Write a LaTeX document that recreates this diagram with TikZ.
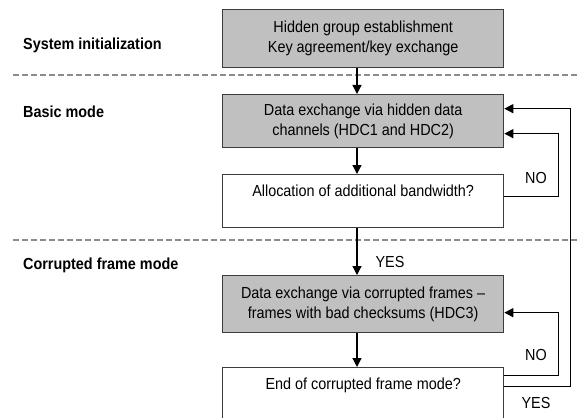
\documentclass[tikz,border=0pt]{standalone}
\usepackage{fontspec}
\setmainfont{Liberation Sans}[FakeStretch=0.9]
\usetikzlibrary{arrows.meta,calc}
\definecolor{boxgray}{RGB}{192,192,192}
\definecolor{edge}{RGB}{60,60,60}
\definecolor{sepgray}{RGB}{140,140,140}
\begin{document}
\begin{tikzpicture}[x=1pt,y=-1pt,
  box/.style={draw=edge, line width=1.3pt, minimum width=281pt, minimum height=#1,
    inner sep=0pt, align=center, anchor=north west, font=\fontsize{16}{20}\selectfont},
  gbox/.style={box=#1, fill=boxgray},
  wbox/.style={box=#1, fill=white},
  arr/.style={draw=black, line width=1.3pt, -{Triangle[length=9pt,width=9pt]}},
  sepline/.style={draw=sepgray, line width=1.5pt, dash pattern=on 6pt off 3pt},
  lab/.style={font=\fontsize{16}{20}\selectfont\bfseries, anchor=west, inner sep=0pt},
  ann/.style={font=\fontsize{16}{20}\selectfont, inner sep=0pt}]
\useasboundingbox (0,0) rectangle (580,417);
\clip (0,0) rectangle (580,417);
\fill[white] (0,0) rectangle (580,417);

% separators
\coordinate (s1a) at (13,75);  \coordinate (s1b) at (580,75);
\coordinate (s2a) at (13,240); \coordinate (s2b) at (580,240);
\draw[sepline] (s1a) -- (s1b);
\draw[sepline] (s2a) -- (s2b);

% section labels
\node[lab] (l1) at (23,45)  {System initialization};
\node[lab] (l2) at (23,112) {Basic mode};
\node[lab] (l3) at (23,265) {Corrupted frame mode};

% boxes
\node[gbox=58pt] (b1) at (222,9)   {Hidden group establishment\\Key agreement/key exchange};
\node[gbox=53pt] (b2) at (222,94)  {Data exchange via hidden data\\channels (HDC1 and HDC2)};
\node[wbox=53pt] (b3) at (222,174) {Allocation of additional bandwidth?\\\mbox{}};
\node[gbox=57pt] (b4) at (222,275) {Data exchange via corrupted frames --\\frames with bad checksums (HDC3)};
\node[wbox=53pt] (b5) at (222,367) {End of corrupted frame mode?\\\mbox{}};

% main flow
\coordinate (ax) at (357,0);
\draw[arr] (b1.south -| ax) -- (b2.north -| ax);
\draw[arr] (b2.south -| ax) -- (b3.north -| ax);
\draw[arr] (b3.south -| ax) -- (b4.north -| ax);
\draw[arr] (b4.south -| ax) -- (b5.north -| ax);

% feedback loops
\draw[arr] ($(b3.east)+(0,-4.5)$) -| ($(b2.east)+(54,12.5)$) -- ($(b2.east)+(0,12.5)$);
\draw[arr] ($(b5.east)+(0,-18.5)$) -| ($(b4.east)+(54,8.5)$) -- ($(b4.east)+(0,8.5)$);
\draw[arr] ($(b5.east)+(0,-7.5)$) -| ($(b2.east)+(66,-12.5)$) -- ($(b2.east)+(0,-12.5)$);

% annotations
\node[ann] (y1) at (390,262) {YES};
\node[ann] (n1) at (536,178) {NO};
\node[ann] (n2) at (536,355) {NO};
\node[ann] (y2) at (536,403) {YES};
\end{tikzpicture}
\end{document}
